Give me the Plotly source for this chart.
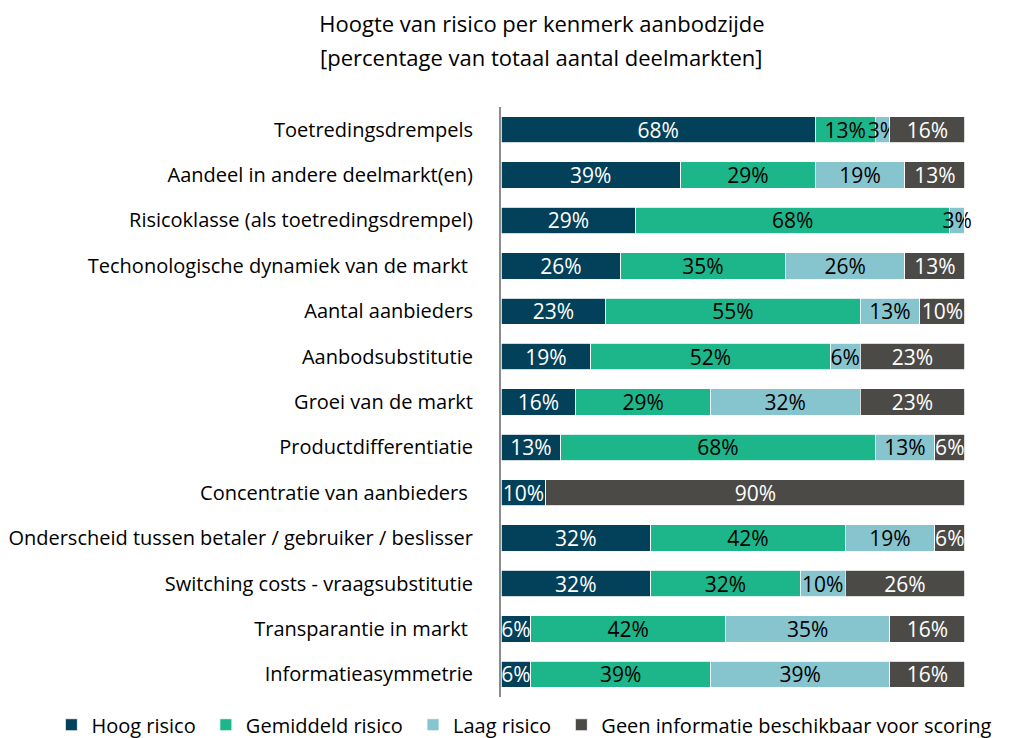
import plotly.graph_objects as go

categories = [
    "Toetredingsdrempels",
    "Aandeel in andere deelmarkt(en)",
    "Risicoklasse (als toetredingsdrempel)",
    "Techonologische dynamiek van de markt\u00a0",
    "Aantal aanbieders",
    "Aanbodsubstitutie",
    "Groei van de markt",
    "Productdifferentiatie",
    "Concentratie van aanbieders\u00a0",
    "Onderscheid tussen betaler / gebruiker / beslisser",
    "Switching costs - vraagsubstitutie",
    "Transparantie in markt\u00a0",
    "Informatieasymmetrie",
]

# number of deelmarkten per category (total 31)
total_markets = 31
hoog = [21, 12, 9, 8, 7, 6, 5, 4, 3, 10, 10, 2, 2]
gemiddeld = [4, 9, 21, 11, 17, 16, 9, 21, 0, 13, 10, 13, 12]
laag = [1, 6, 1, 8, 4, 2, 10, 4, 0, 6, 3, 11, 12]
geen = [5, 4, 0, 4, 3, 7, 7, 2, 28, 2, 8, 5, 5]

series = [
    ("Hoog risico\u00a0", hoog, "#03405A", "white"),
    ("Gemiddeld risico\u00a0", gemiddeld, "#1DB68A", "black"),
    ("Laag risico\u00a0", laag, "#86C4CE", "black"),
    ("Geen informatie beschikbaar voor scoring", geen, "#4C4A47", "white"),
]

FONT = "Open Sans"
FS = 20

fig = go.Figure()
for name, counts, color, tcolor in series:
    pct = [c / total_markets * 100 for c in counts]
    txt = [f"{round(p)}%" if c > 0 else "" for p, c in zip(pct, counts)]
    fig.add_trace(go.Bar(
        y=categories, x=pct, name=name, orientation="h",
        marker=dict(color=color, line=dict(color="white", width=0.8)),
        text=txt, textposition="inside", insidetextanchor="middle",
        textangle=0, constraintext="none",
        textfont=dict(color=tcolor, size=21, family=FONT),
        cliponaxis=False,
    ))

fig.update_layout(
    barmode="stack",
    bargap=0.42,
    width=1020, height=738,
    margin=dict(l=493, r=63, t=99, b=49, autoexpand=False),
    paper_bgcolor="white", plot_bgcolor="white",
    font=dict(family=FONT, size=FS, color="black"),
    title=dict(
        text="Hoogte van risico per kenmerk aanbodzijde",
        x=0.5235, xref="container", xanchor="center",
        y=1 - 16 / 738, yref="container", yanchor="middle",
        font=dict(size=22, family=FONT, color="black"),
    ),
    annotations=[dict(
        text="[percentage van totaal aantal deelmarkten]",
        x=0.5235 * 1020 / 464 - 493 / 464, xref="paper", y=(689 - 49) / 590, yref="paper",
        xanchor="center", yanchor="middle", showarrow=False,
        font=dict(size=22, family=FONT, color="black"),
    )],
    xaxis=dict(range=[0, 100.05], visible=False, fixedrange=True),
    yaxis=dict(
        autorange="reversed", showline=True, linecolor="#8C8C8C", linewidth=2,
        ticks="", ticklabelstandoff=22, showgrid=False, automargin=False,
        tickfont=dict(size=FS, family=FONT, color="black"),
    ),
    legend=dict(
        orientation="h", x=-0.969, xanchor="left", y=-0.047, yanchor="middle",
        font=dict(size=FS, family=FONT), traceorder="normal",
        itemwidth=30,
    ),
)

fig.write_html("out.html")
